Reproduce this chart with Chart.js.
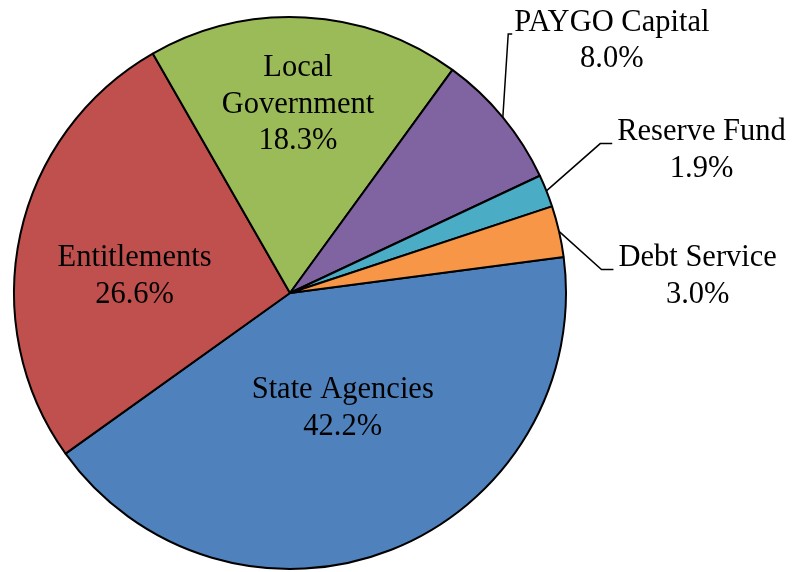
<!DOCTYPE html>
<html>
<head>
<meta charset="utf-8">
<title>Budget Pie</title>
<script src="https://cdn.jsdelivr.net/npm/chart.js@4.4.1/dist/chart.umd.min.js"></script>
<style>
  body { margin: 0; background: #ffffff; }
  #wrap { width: 796px; height: 572px; }
</style>
</head>
<body>
<div id="wrap"><canvas id="budgetChart" width="796" height="572"></canvas></div>
<script>

// data
var categories = ["State Agencies", "Entitlements", "Local Government", "PAYGO Capital", "Reserve Fund", "Debt Service"];
var shares = [42.2, 26.6, 18.3, 8.0, 1.9, 3.0];
var sliceColors = ["#4F81BD", "#C0504D", "#9BBB59", "#8064A2", "#4BACC6", "#F79646"];

// where each label sits, in units of the pie radius from its centre
var labelPlace = [
  { fx: 0.191, fy: 0.419 },
  { fx: -0.563, fy: -0.060 },
  { fx: 0.029, fy: -0.682 },
  { fx: 1.166, fy: -0.913, leader: true, gap: 2, stub: 4 },
  { fx: 1.491, fy: -0.516, leader: true, gap: 5, stub: 12 },
  { fx: 1.477, fy: -0.060, leader: true, gap: 5, stub: 12 }
];

function labelLines(i){
  var name = categories[i];
  var lines = name === "Local Government" ? ["Local", "Government"] : [name];
  lines.push(shares[i].toFixed(1) + "%");
  return lines;
}

var pieLabels = {
  id: 'pieLabels',
  afterDatasetsDraw: function(chart){
    var ctx = chart.ctx;
    var meta = chart.getDatasetMeta(0);
    ctx.save();
    ctx.font = '30.5px "Liberation Serif", "Times New Roman", serif';
    ctx.fillStyle = '#000000';
    ctx.textAlign = 'center';
    ctx.textBaseline = 'middle';
    var lineH = 36.5;

    meta.data.forEach(function(arc, i){
      var p = labelPlace[i];
      var R = arc.outerRadius;
      var cx = arc.x + p.fx * R;
      var cy = arc.y + p.fy * R;
      var lines = labelLines(i);
      var top = cy - (lines.length - 1) * lineH / 2;
      var maxW = 0;
      lines.forEach(function(t, k){
        maxW = Math.max(maxW, ctx.measureText(t).width);
        ctx.fillText(t, cx, top + k * lineH);
      });

      if (p.leader) {
        var mid = (arc.startAngle + arc.endAngle) / 2;
        var sx = arc.x + Math.cos(mid) * R;
        var sy = arc.y + Math.sin(mid) * R;
        var ex = cx - maxW / 2 - p.gap;
        var ey = cy - 7;
        ctx.beginPath();
        ctx.strokeStyle = '#000000';
        ctx.lineWidth = 1.5;
        ctx.moveTo(sx, sy);
        ctx.lineTo(ex - p.stub, ey);
        ctx.lineTo(ex, ey);
        ctx.stroke();
      }
    });
    ctx.restore();
  }
};

function init(){
  var ctx = document.getElementById('budgetChart').getContext('2d');
  var chart = new Chart(ctx, {
    type: 'pie',
    data: {
      labels: categories,
      datasets: [{
        data: shares,
        backgroundColor: sliceColors,
        borderColor: '#000000',
        borderWidth: 2
      }]
    },
    options: {
      responsive: false,
      animation: false,
      devicePixelRatio: 1,
      rotation: 82.5,
      layout: { padding: { left: 13, right: 229, top: 15, bottom: 1 } },
      plugins: {
        legend: { display: false },
        tooltip: { enabled: false }
      }
    },
    plugins: [pieLabels]
  });
}

init();
</script>
</body>
</html>
